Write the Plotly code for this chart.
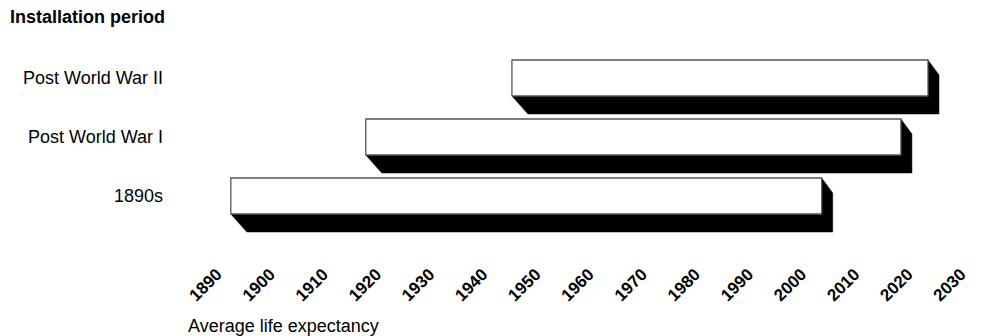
import plotly.graph_objects as go

# ---- data ----
periods = ["1890s", "Post World War I", "Post World War II"]
start_year = [1892.6, 1918.0, 1945.5]
end_year = [2003.8, 2018.7, 2023.8]
tick_years = [1890, 1900, 1910, 1920, 1930, 1940, 1950, 1960, 1970, 1980, 1990, 2000, 2010, 2020, 2030]

# ---- layout geometry (page body has an 8px margin) ----
OFF = 8
W, H = 983 - OFF, 336 - OFF
ML, MR, MT, MB = 194, 5, 40, 96
plot_w = W - ML - MR
plot_h = H - MT - MB
px_per_year = 5.314
tick0_px = 217 - OFF - ML  # position of first tick inside plot area
x_range = [tick_years[0] - tick0_px / px_per_year,
           tick_years[0] + (plot_w - tick0_px) / px_per_year]
px_per_cat = 59.0
y_range = [-(240 - 196) / px_per_cat, 2 + (78 - 48) / px_per_cat]
px_per_cat = plot_h / (y_range[1] - y_range[0])

bar_h = 36 / px_per_cat
half = bar_h / 2
# shadow offsets (pixels -> data units)
dx_bot = 16 / px_per_year
dy_bot = 18 / px_per_cat
dx_side = 11 / px_per_year
dy_side = 15 / px_per_cat

fig = go.Figure()

# shadows
for i, (s, e) in enumerate(zip(start_year, end_year)):
    yt, yb = i + half, i - half
    xs = [s, s + dx_bot, e + dx_side, e + dx_side, e, e, s]
    ys = [yb, yb - dy_bot, yb - dy_bot, yt - dy_side, yt, yb, yb]
    fig.add_trace(go.Scatter(x=xs, y=ys, mode="lines", fill="toself",
                             fillcolor="black", line=dict(color="black", width=0.5),
                             hoverinfo="skip", showlegend=False))

# white bars
for i, (s, e) in enumerate(zip(start_year, end_year)):
    yt, yb = i + half, i - half
    fig.add_trace(go.Scatter(x=[s, e, e, s, s], y=[yb, yb, yt, yt, yb], mode="lines",
                             fill="toself", fillcolor="white",
                             line=dict(color="#555555", width=1.3),
                             name=periods[i], showlegend=False))

fig.update_layout(
    width=W, height=H,
    margin=dict(l=ML, r=MR, t=MT, b=MB, autoexpand=False),
    paper_bgcolor="white", plot_bgcolor="white",
    font=dict(family="Liberation Sans, Arial, sans-serif", size=18, color="black"),
    xaxis=dict(range=x_range, tickvals=tick_years, ticktext=[f"<b>{t}</b>" for t in tick_years],
               tickangle=-45, showgrid=False, zeroline=False, showline=False, ticks="",
               ticklabelstandoff=20, automargin=False,
               tickfont=dict(size=17, family="Liberation Sans, Arial, sans-serif", color="black")),
    yaxis=dict(range=y_range, tickvals=[0, 1, 2], ticktext=periods, showgrid=False,
               zeroline=False, showline=False, ticks="", ticklabelstandoff=38, automargin=False,
               tickfont=dict(size=18, color="black")),
    annotations=[
        dict(text="<b>Installation period</b>", xref="paper", yref="paper",
             x=(0 - ML) / plot_w, y=(H - MB - 9) / plot_h, xanchor="left", yanchor="middle",
             showarrow=False, font=dict(size=18)),
        dict(text="Average life expectancy", xref="paper", yref="paper",
             x=(178 - ML) / plot_w, y=(H - MB - 318) / plot_h, xanchor="left", yanchor="middle",
             showarrow=False, font=dict(size=18)),
    ],
)

fig.write_html("out.html")
